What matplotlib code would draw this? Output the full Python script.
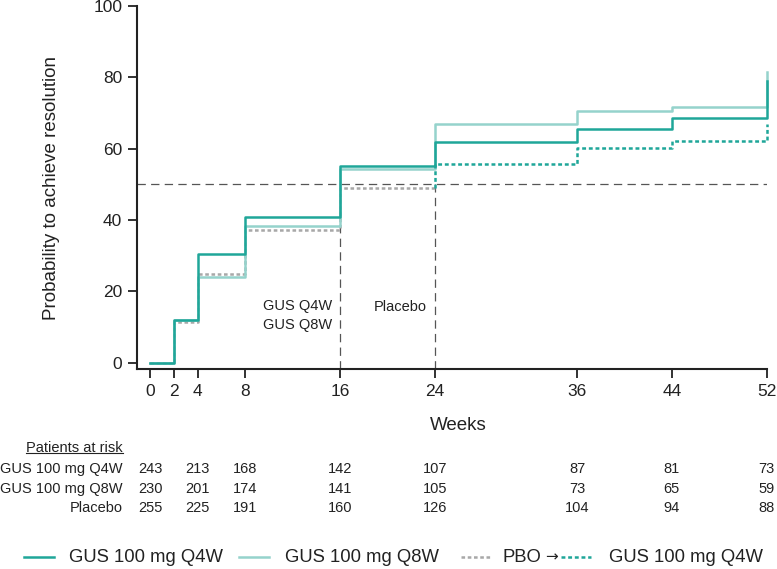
import matplotlib
matplotlib.use("Agg")
import matplotlib.pyplot as plt
import matplotlib.transforms as mtransforms
from matplotlib.lines import Line2D

# Fonts
plt.rcParams['font.family'] = ['Liberation Sans', 'DejaVu Sans']
plt.rcParams['lines.scale_dashes'] = False

# Data
weeks = [0, 2, 4, 8, 16, 24, 36, 44, 52]
gus_q4w = [0, 11.9, 30.5, 40.7, 55.1, 61.9, 65.4, 68.6, 78.9]
gus_q8w = [0, 12.0, 24.0, 38.3, 54.2, 66.8, 70.5, 71.8, 81.4]

pbo_weeks = [0, 2, 4, 8, 16, 24]
pbo = [0, 11.4, 24.8, 37.2, 49.0, 49.0]

switch_weeks = [24, 36, 44, 52]
pbo_to_gus = [55.7, 60.3, 62.0, 66.8]

median_weeks = [16, 24]
median_labels = ["GUS Q4W\nGUS Q8W", "Placebo"]

risk_weeks = [0, 4, 8, 16, 24, 36, 44, 52]
risk_rows = ["GUS 100 mg Q4W", "GUS 100 mg Q8W", "Placebo"]
risk_q4w = [243, 213, 168, 142, 107, 87, 81, 73]
risk_q8w = [230, 201, 174, 141, 105, 73, 65, 59]
risk_pbo = [255, 225, 191, 160, 126, 104, 94, 88]

xticks = [0, 2, 4, 8, 16, 24, 36, 44, 52]
yticks = [0, 20, 40, 60, 80, 100]

teal = "#1fa699"
light = "#95d3cc"
grey = "#a8a8a8"
ref_color = "#555555"
ink = "#222222"

label_fontsize = 13.5
tick_fontsize = 12.5
table_fontsize = 10.5
legend_fontsize = 13.3

fig = plt.figure(figsize=(7.77, 5.69), dpi=100)
ax = fig.add_axes([0.176, 0.351, 0.8107, 0.6385])

ymin = -1.9
ax.set_xlim(-1.16, 52)
ax.set_ylim(ymin, 100)

# reference lines (50% and medians)
ax.axhline(50, color=ref_color, lw=0.9, dashes=(6, 3.8), zorder=1)
ax.vlines(median_weeks, ymin, 50, color=ref_color, lw=0.9, linestyles=[(0, (6, 3.8))], zorder=1)

# KM step curves
ax.step(pbo_weeks, pbo, where="post", color=grey, lw=1.8, dashes=(2.6, 1.9), zorder=2, clip_on=False)
ax.step(weeks, gus_q8w, where="post", color=light, lw=1.8, zorder=3, clip_on=False)
ax.step(weeks, gus_q4w, where="post", color=teal, lw=1.8, zorder=4, clip_on=False)
ax.step([24] + switch_weeks, [pbo[-1]] + pbo_to_gus, where="post", color=teal, lw=1.8,
        dashes=(2.8, 2.0), zorder=4, clip_on=False)

# median labels
ax.text(median_weeks[0] - 0.65, 13.2, median_labels[0], ha="right", va="center",
        fontsize=table_fontsize, linespacing=1.45, color=ink)
ax.text(median_weeks[1] - 0.65, 15.65, median_labels[1], ha="right", va="center",
        fontsize=table_fontsize, color=ink)

ax.set_xticks(xticks)
ax.set_yticks(yticks)
ax.tick_params(axis="both", labelsize=tick_fontsize, length=6.5, width=1.3, direction="out",
               pad=4, color=ink, labelcolor=ink)
for side in ["top", "right"]:
    ax.spines[side].set_visible(False)
for side in ["left", "bottom"]:
    ax.spines[side].set_linewidth(1.5)
    ax.spines[side].set_color(ink)

ax.set_xlabel("Weeks", fontsize=label_fontsize, color=ink)
ax.xaxis.set_label_coords(0.511, -0.13)
ax.set_ylabel("Probability to achieve resolution", fontsize=label_fontsize, color=ink)
ax.yaxis.set_label_coords(-0.122, 0.5)

# patients at risk table
trans = mtransforms.blended_transform_factory(ax.transData, fig.transFigure)
header = fig.text(0.158, 1 - 448 / 569, "Patients at risk", ha="right", va="center",
                  fontsize=table_fontsize, color=ink)
row_y = [1 - 469 / 569, 1 - 489 / 569, 1 - 508 / 569]
for y, name, vals in zip(row_y, risk_rows, [risk_q4w, risk_q8w, risk_pbo]):
    fig.text(0.158, y, name, ha="right", va="center", fontsize=table_fontsize, color=ink)
    for w, v in zip(risk_weeks, vals):
        ax.text(w, y, str(v), transform=trans, ha="center", va="center",
                fontsize=table_fontsize, color=ink)

# legend, laid out by hand
leg_y = 1 - 557 / 569
W = 777.0
legend_items = [
    (24, 54, 69, dict(color=teal, lw=1.8), "GUS 100 mg Q4W"),
    (239, 269, 285, dict(color=light, lw=1.8), "GUS 100 mg Q8W"),
    (461, 491, 502, dict(color=grey, lw=1.8, dashes=(2.6, 1.9)), "PBO"),
    (561, 591, 609, dict(color=teal, lw=1.8, dashes=(2.8, 2.0)), "GUS 100 mg Q4W"),
]
legend_texts = []
for x0, x1, xt, style, label in legend_items:
    fig.add_artist(Line2D([x0 / W, x1 / W], [leg_y, leg_y], **style))
    legend_texts.append(fig.text(xt / W, leg_y, label, ha="left", va="center",
                                 fontsize=legend_fontsize, color=ink))

# underline the header, place the arrow after "PBO"
fig.canvas.draw()
bb = header.get_window_extent().transformed(fig.transFigure.inverted())
fig.add_artist(Line2D([bb.x0, bb.x1], [bb.y0 + 0.003, bb.y0 + 0.003], color=ink, lw=0.8))
pbo_bb = legend_texts[2].get_window_extent()
fig.text((pbo_bb.x1 + 4) / W, leg_y, "\u2192", ha="left", va="center", fontsize=11,
         family="DejaVu Sans", color=ink)

fig.savefig("out.png", dpi=100)
